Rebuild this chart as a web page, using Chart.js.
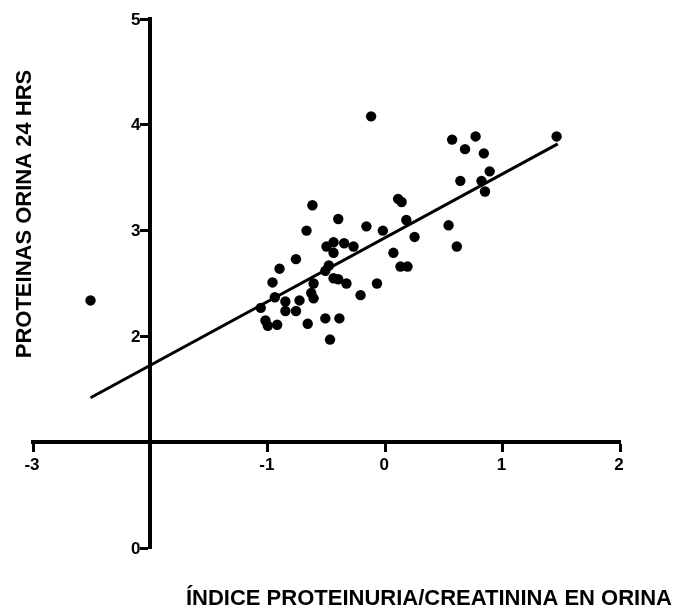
<!DOCTYPE html>
<html>
<head>
<meta charset="utf-8">
<script src="https://cdn.jsdelivr.net/npm/chart.js@4.4.1/dist/chart.umd.min.js"></script>
<style>
  html, body { margin: 0; padding: 0; background: #fff; }
  #wrap { width: 675px; height: 609px; position: relative; }
</style>
</head>
<body>
<div id="wrap"><canvas id="chart"></canvas></div>
<script>
// measured values
const xVals = [-2.51, -0.12, 0.57, 0.77, 0.68, 0.84, 1.46, 0.89, 0.64, 0.82, 0.85, 0.54, 0.61, 0.11,
  0.14, 0.18, 0.25, -0.16, -0.02, 0.07, 0.13, 0.19, -0.35, -0.27, -0.40, -0.07, -0.62, -0.67,
  -0.44, -0.50, -0.44, -0.76, -0.48, -0.51, -0.44, -0.40, -0.33, -0.61, -0.63, -0.21, -0.90, -0.96,
  -0.94, -0.61, -0.73, -0.85, -0.85, -0.76, -1.06, -1.02, -1.00, -0.92, -0.66, -0.51, -0.39, -0.47];
const yVals = [2.34, 4.08, 3.86, 3.89, 3.77, 3.73, 3.89, 3.56, 3.47, 3.47, 3.37, 3.05, 2.85, 3.30,
  3.27, 3.10, 2.94, 3.04, 3.00, 2.79, 2.66, 2.66, 2.88, 2.85, 3.11, 2.50, 3.24, 3.00,
  2.89, 2.85, 2.79, 2.73, 2.67, 2.62, 2.55, 2.54, 2.50, 2.50, 2.41, 2.39, 2.64, 2.51,
  2.37, 2.36, 2.34, 2.33, 2.24, 2.24, 2.27, 2.15, 2.10, 2.11, 2.12, 2.17, 2.17, 1.97];

// regression line ends
const fitX = [-2.51, 1.47];
const fitY = [1.42, 3.82];

const xTicks = [-3, -2, -1, 0, 1, 2];
const yTicks = [0, 1, 2, 3, 4, 5];
const yAxisAt = -2;   // x value where the y axis sits (its label is left out)
const xAxisAt = 1;    // y value where the x axis sits (its label is left out)

const xTitle = 'ÍNDICE PROTEINURIA/CREATININA EN ORINA';
const yTitle = 'PROTEINAS ORINA 24 HRS';

const points = xVals.map((x, i) => ({ x, y: yVals[i] }));
const fitLine = fitX.map((x, i) => ({ x, y: fitY[i] }));

const FONT = '"Liberation Sans", Arial, sans-serif';

// both axes are placed by value, which leaves chart.js's own labels badly
// placed, so tick labels and titles are drawn here from the scales
const axisText = {
  id: 'axisText',
  afterDraw(chart) {
    const ctx = chart.ctx;
    const xs = chart.scales.x, ys = chart.scales.y;
    const axisX = xs.getPixelForValue(yAxisAt);
    const axisY = ys.getPixelForValue(xAxisAt);
    ctx.save();
    ctx.fillStyle = '#000';

    ctx.font = 'bold 17px ' + FONT;
    ctx.textBaseline = 'middle';
    ctx.textAlign = 'right';
    yTicks.forEach(v => {
      if (v === xAxisAt) return;
      ctx.fillText(String(v), axisX - 10, ys.getPixelForValue(v) + 1);
    });
    ctx.textAlign = 'center';
    xTicks.forEach(v => {
      if (v === yAxisAt) return;
      ctx.fillText(String(v), xs.getPixelForValue(v) - 1, axisY + 23);
    });

    ctx.font = 'bold 22px ' + FONT;
    ctx.textBaseline = 'alphabetic';
    ctx.textAlign = 'right';
    ctx.fillText(xTitle, 672, 605);
    ctx.translate(31, 214);
    ctx.rotate(-Math.PI / 2);
    ctx.textAlign = 'center';
    ctx.fillText(yTitle, 0, 0);
    ctx.restore();
  }
};

const tickGrid = { drawOnChartArea: false, drawTicks: true, tickLength: 8, tickWidth: 3, tickColor: '#000' };

new Chart(document.getElementById('chart'), {
  type: 'scatter',
  data: {
    datasets: [
      {
        data: points,
        backgroundColor: '#000',
        borderWidth: 0,
        pointRadius: 5.2,
        pointHoverRadius: 5.2
      },
      {
        type: 'line',
        data: fitLine,
        borderColor: '#000',
        borderWidth: 3,
        pointRadius: 0,
        fill: false
      }
    ]
  },
  options: {
    responsive: true,
    maintainAspectRatio: false,
    animation: false,
    layout: { padding: { left: 33, right: 55, top: 19, bottom: 61 } },
    plugins: { legend: { display: false }, tooltip: { enabled: false } },
    scales: {
      x: {
        type: 'linear',
        min: -3, max: 2,
        position: { y: xAxisAt },
        afterBuildTicks: s => { s.ticks = xTicks.map(v => ({ value: v })); },
        ticks: { display: false },
        grid: tickGrid,
        border: { display: true, color: '#000', width: 4 }
      },
      y: {
        type: 'linear',
        min: 0, max: 5,
        position: { x: yAxisAt },
        afterBuildTicks: s => { s.ticks = yTicks.map(v => ({ value: v })); },
        ticks: { display: false },
        grid: tickGrid,
        border: { display: true, color: '#000', width: 4 }
      }
    }
  },
  plugins: [axisText]
});
</script>
</body>
</html>
